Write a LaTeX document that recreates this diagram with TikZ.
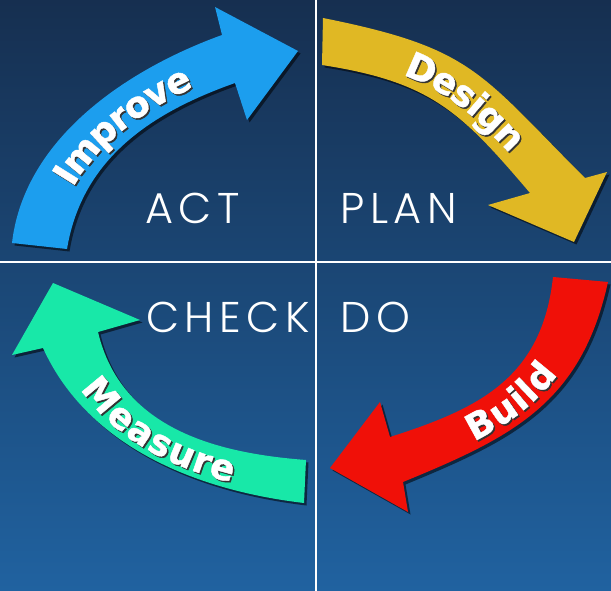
\documentclass[tikz,border=0pt]{standalone}
\usepackage{fontspec}
\setmainfont{Poppins}
\IfFontExistsTF{Poppins Light}
  {\newfontfamily\quadfont{Poppins Light}[LetterSpace=13]}
  {\newfontfamily\quadfont{Poppins}[LetterSpace=13]}
\newfontfamily\arrowfont{DejaVu Sans}[BoldFeatures={FakeBold=1.2}]
\usetikzlibrary{decorations.text}

\definecolor{bgtop}{HTML}{162F50}
\definecolor{bgbot}{HTML}{2062A0}
\definecolor{actblue}{HTML}{1C9EEE}
\definecolor{planyellow}{HTML}{E0B824}
\definecolor{dored}{HTML}{F01008}
\definecolor{checkgreen}{HTML}{18E8A8}

\tikzset{
  x=1pt, y=-1pt,
  arrowshadow/.style={fill=black, fill opacity=0.55, shift={(2.5,2.5)}},
  arrowbody/.style={fill=#1},
  divider/.style={draw=white, line width=1.5pt},
  quadlabel/.style={text=white, inner sep=0pt, anchor=base west,
    font=\quadfont\fontsize{43}{43}\selectfont},
  arrowtext/.style n args={3}{decorate, decoration={text along path,
    text={|\arrowfont\bfseries\fontsize{36}{36}\selectfont|#1},
    text align={center, #3}, raise=-13pt, text color=#2}},
  textshadow/.style={shift={(1.5,1.5)}},
}

% outlines of the four curved arrows
\def\improvepath{(12,243) .. controls (24.4,135.9) and (131.2,67.8) .. (222,35)
  -- (215,7) -- (298,51) -- (247,120)
  -- (235,83) .. controls (153,112) and (82.2,157.4) .. (67,249) -- cycle}
\def\designpath{(323,18) .. controls (473.3,48.1) and (479.1,72.1) .. (585,178)
  -- (607,172) -- (574,242) -- (488,205)
  -- (530,193) .. controls (460.3,111) and (430.7,81.9) .. (322,65) -- cycle}
\def\buildpath{(608,282) .. controls (581,403.7) and (512,437.1) .. (403,482)
  -- (408,512) -- (330,468) -- (380,402)
  -- (390,437) .. controls (478.5,408.8) and (542.1,378.3) .. (553,277) -- cycle}
\def\measurepath{(304,503) .. controls (201,490.9) and (89,449.2) .. (43,348)
  -- (12,355) -- (53,283) -- (140,320)
  -- (98,332) .. controls (121.3,429.9) and (218.7,453.3) .. (306,460) -- cycle}

% centre lines carrying the arrow labels
\def\improveline{(39.5,246) .. controls (53.3,146.7) and (142.1,89.9) .. (228.5,59)}
\def\designline{(322.5,41.5) .. controls (452,65) and (469.7,91.6) .. (557.5,185.5)}
\def\buildline{(396.5,459.5) .. controls (495.3,423) and (561.6,391) .. (580.5,279.5)}
\def\measureline{(70.5,340) .. controls (105.2,439.6) and (209.9,472.1) .. (305,481.5)}

\begin{document}
\begin{tikzpicture}
\useasboundingbox (0,0) rectangle (611,591);
\shade[top color=bgtop, bottom color=bgbot] (0,0) rectangle (611,591);

% quadrant dividers
\draw[divider] (316,0) -- (316,591);
\draw[divider] (0,262) -- (611,262);

% arrows
\fill[arrowshadow] \improvepath;
\fill[arrowbody=actblue] \improvepath;
\fill[arrowshadow] \designpath;
\fill[arrowbody=planyellow] \designpath;
\fill[arrowshadow] \buildpath;
\fill[arrowbody=dored] \buildpath;
\fill[arrowshadow] \measurepath;
\fill[arrowbody=checkgreen] \measurepath;

% arrow labels with their shadows
\path[arrowtext={Improve}{black!80}{left indent=26pt}, textshadow] \improveline;
\path[arrowtext={Improve}{white}{left indent=26pt}] \improveline;
\path[arrowtext={Design}{black!80}{left indent=32pt}, textshadow] \designline;
\path[arrowtext={Design}{white}{left indent=32pt}] \designline;
\path[arrowtext={Build}{black!80}{right indent=16pt}, textshadow] \buildline;
\path[arrowtext={Build}{white}{right indent=16pt}] \buildline;
\path[arrowtext={Measure}{black!80}{right indent=26pt}, textshadow] \measureline;
\path[arrowtext={Measure}{white}{right indent=26pt}] \measureline;

% quadrant names
\node[quadlabel] (act) at (145,223) {ACT};
\node[quadlabel] (plan) at (340,223) {PLAN};
\node[quadlabel] (check) at (146,332) {CHECK};
\node[quadlabel] (do) at (340,332) {DO};
\end{tikzpicture}
\end{document}
